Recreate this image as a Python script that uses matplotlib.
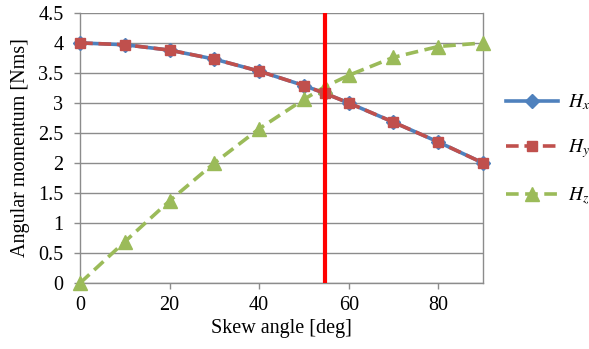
import matplotlib
matplotlib.use("Agg")
import matplotlib.pyplot as plt

plt.rcParams['font.family'] = ['Liberation Serif', 'DejaVu Serif']
plt.rcParams['mathtext.fontset'] = 'stix'

# skew angle [deg], includes the crossing point near 54.7
angle = [0, 10, 20, 30, 40, 50, 54.7, 60, 70, 80, 90]
hx = [4.0, 3.97, 3.88, 3.73, 3.53, 3.29, 3.16, 3.0, 2.68, 2.35, 2.0]
hy = [4.0, 3.97, 3.88, 3.73, 3.53, 3.29, 3.16, 3.0, 2.68, 2.35, 2.0]
hz = [0.0, 0.69, 1.37, 2.0, 2.57, 3.06, 3.27, 3.46, 3.76, 3.94, 4.0]
marker_angle = 54.7

fig = plt.figure(figsize=(5.89, 3.49), dpi=100)
ax = fig.add_axes([0.136, 0.189, 0.684, 0.774])

grey = '#8c8c8c'
ax.plot(angle, hx, color='#4f81bd', lw=2.6, marker='D', ms=7, label='$H_x$',
        zorder=3, clip_on=False)
ax.plot(angle, hy, color='#c0504d', lw=2.6, ls=(0, (3.5, 1.6)), marker='s', ms=7.5,
        label='$H_y$', zorder=4, clip_on=False)
ax.plot(angle, hz, color='#9bbb59', lw=2.6, ls=(0, (3.5, 1.8)), marker='^', ms=10,
        label='$H_z$', zorder=3, clip_on=False)
ax.axvline(marker_angle, color='#ff0000', lw=3, zorder=5)

ax.set_xlim(0, 90)
ax.set_ylim(0, 4.5)
ax.set_xticks([0, 20, 40, 60, 80])
ax.set_yticks([0, 0.5, 1, 1.5, 2, 2.5, 3, 3.5, 4, 4.5])
ax.set_yticklabels(['0', '0.5', '1', '1.5', '2', '2.5', '3', '3.5', '4', '4.5'])
ax.yaxis.grid(True, color=grey, lw=1)
ax.set_axisbelow(True)
for s in ax.spines.values():
    s.set_color(grey)
    s.set_linewidth(1)
ax.spines['top'].set_visible(False)
ax.tick_params(colors=grey, labelcolor='black', labelsize=14.5, length=4, width=1)
ax.tick_params(axis='y', pad=8)
ax.tick_params(axis='x', pad=5)

ax.set_xlabel('Skew angle [deg]', fontsize=14.5, labelpad=3)
ax.set_ylabel('Angular momentum [Nms]', fontsize=14.5, labelpad=6)

leg = ax.legend(loc='upper left', bbox_to_anchor=(1.057, 0.705), frameon=False,
                fontsize=14, handlelength=2.7, labelspacing=1.3, handletextpad=0.5,
                borderpad=0, borderaxespad=0)

fig.savefig('out.png', dpi=100)
